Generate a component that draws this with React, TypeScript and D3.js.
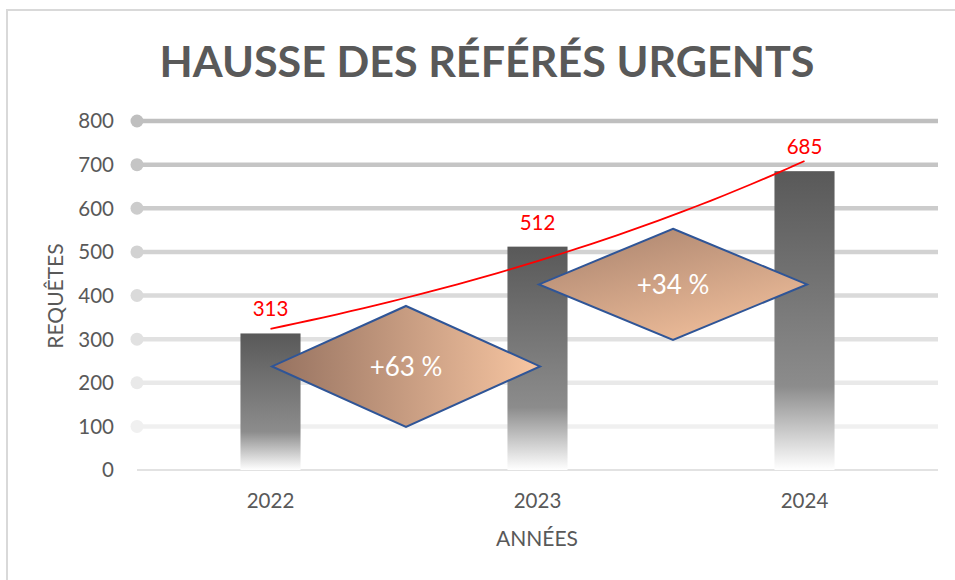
import { useMemo } from "react";
import * as d3 from "d3";

const WIDTH = 955;
const HEIGHT = 580;
const PLOT = { left: 137, right: 938, top: 121, bottom: 470 };

const years = ["2022", "2023", "2024"];
const requetes = [313, 512, 685];
const yTicks = [0, 100, 200, 300, 400, 500, 600, 700, 800];
const hausseLabels = ["+63 %", "+34 %"];
// vertical extent of each diamond, in axis units
const hausseLow = [99, 298];
const hausseHigh = [376, 553];

const FONT = "Lato, 'Open Sans', sans-serif";
const TEXT_GREY = "#595959";

// grid colours get lighter towards the bottom
const gridColor = d3
  .scaleLinear<string>()
  .domain([100, 500, 800])
  .range(["#f0f0f0", "#d2d2d2", "#bfbfbf"]);

const App = () => {
  const xScale = useMemo(
    () => d3.scalePoint().domain(years).range([PLOT.left, PLOT.right]).padding(0.5),
    []
  );
  const yScale = useMemo(
    () => d3.scaleLinear().domain([0, 800]).range([PLOT.bottom, PLOT.top]),
    []
  );
  const step = xScale.step();
  const barWidth = step * 0.225;

  // exponential trend line (least squares on ln y)
  const xs = years.map((_, i) => i + 1);
  const lns = requetes.map((v) => Math.log(v));
  const mx = d3.mean(xs)!;
  const my = d3.mean(lns)!;
  const slope =
    d3.sum(xs, (x, i) => (x - mx) * (lns[i] - my)) / d3.sum(xs, (x) => (x - mx) ** 2);
  const intercept = my - slope * mx;
  const trendX = d3.scaleLinear().domain([1, 3]).range([xScale(years[0])!, xScale(years[2])!]);
  const trendPts = d3.range(1, 3.001, 0.05).map((t) => [trendX(t), yScale(Math.exp(intercept + slope * t))] as [number, number]);
  const trendPath = d3.line().curve(d3.curveBasis)(trendPts);

  return (
    <svg width={WIDTH} height={HEIGHT} style={{ position: "absolute", left: 0, top: 0 }}>
      <defs>
        <linearGradient id="barGrad" x1="0" y1="0" x2="0" y2="1">
          <stop offset="0%" stopColor="#595959" />
          <stop offset="72%" stopColor="#8c8c8c" />
          <stop offset="100%" stopColor="#ffffff" />
        </linearGradient>
        <linearGradient id="diaGrad0" x1="0" y1="0" x2="1" y2="0">
          <stop offset="0%" stopColor="#967260" />
          <stop offset="100%" stopColor="#f8c6a2" />
        </linearGradient>
        <linearGradient id="diaGrad1" x1="0.2" y1="0" x2="0.8" y2="1">
          <stop offset="0%" stopColor="#ad8670" />
          <stop offset="100%" stopColor="#f2c09c" />
        </linearGradient>
      </defs>
      <rect x={0} y={0} width={WIDTH} height={HEIGHT} fill="#fff" />
      <rect x={7} y={10} width={WIDTH + 10} height={HEIGHT + 10} fill="#fff" stroke="#d9d9d9" strokeWidth={2} />

      <text
        x={487}
        y={77}
        textAnchor="middle"
        fontFamily={FONT}
        fontWeight={700}
        fontSize={42}
        fill={TEXT_GREY}
        textLength={655}
        lengthAdjust="spacingAndGlyphs"
      >
        HAUSSE DES RÉFÉRÉS URGENTS
      </text>

      {/* grid */}
      {yTicks.map((t) =>
        t === 0 ? (
          <line key={t} x1={PLOT.left} x2={PLOT.right} y1={yScale(t)} y2={yScale(t)} stroke="#d9d9d9" strokeWidth={1.5} />
        ) : (
          <g key={t}>
            <line x1={PLOT.left} x2={PLOT.right} y1={yScale(t)} y2={yScale(t)} stroke={gridColor(t)} strokeWidth={4.5} />
            <circle cx={PLOT.left} cy={yScale(t)} r={6.5} fill={gridColor(t)} />
          </g>
        )
      )}
      {yTicks.map((t) => (
        <text key={t} x={114} y={yScale(t)} dy="0.36em" textAnchor="end" fontFamily={FONT} fontSize={20.5} fill={TEXT_GREY}>
          {t}
        </text>
      ))}

      {/* bars */}
      {years.map((yr, i) => (
        <rect
          key={yr}
          x={xScale(yr)! - barWidth / 2}
          y={yScale(requetes[i])}
          width={barWidth}
          height={yScale(0) - yScale(requetes[i])}
          fill="url(#barGrad)"
        />
      ))}

      {/* trend */}
      <path d={trendPath ?? ""} fill="none" stroke="#ff0000" strokeWidth={1.8} />

      {/* diamonds */}
      {hausseLabels.map((lab, i) => {
        const cx = (xScale(years[i])! + xScale(years[i + 1])!) / 2 + 2;
        const top = yScale(hausseHigh[i]);
        const bot = yScale(hausseLow[i]);
        const cy = (top + bot) / 2;
        const hw = step / 2 + 0.5;
        const pts = [
          [cx, top],
          [cx + hw, cy],
          [cx, bot],
          [cx - hw, cy],
        ];
        return (
          <g key={lab}>
            <polygon
              points={pts.map((p) => p.join(",")).join(" ")}
              fill={`url(#diaGrad${i})`}
              stroke="#2f5597"
              strokeWidth={2}
              strokeLinejoin="miter"
            />
            <text x={cx} y={cy} dy="0.36em" textAnchor="middle" fontFamily={FONT} fontSize={26} fill="#ffffff">
              {lab}
            </text>
          </g>
        );
      })}

      {/* value labels */}
      {years.map((yr, i) => (
        <text
          key={yr}
          x={xScale(yr)!}
          y={yScale(requetes[i]) - 17}
          textAnchor="middle"
          fontFamily={FONT}
          fontSize={20.5}
          fill="#ff0000"
        >
          {requetes[i]}
        </text>
      ))}

      {/* x axis labels */}
      {years.map((yr) => (
        <text key={yr} x={xScale(yr)!} y={508} textAnchor="middle" fontFamily={FONT} fontSize={20.5} fill={TEXT_GREY}>
          {yr}
        </text>
      ))}
      <text x={537} y={546} textAnchor="middle" fontFamily={FONT} fontSize={21} fill={TEXT_GREY}>
        ANNÉES
      </text>
      <text
        transform={`translate(63,296) rotate(-90)`}
        textAnchor="middle"
        fontFamily={FONT}
        fontSize={21}
        fill={TEXT_GREY}
      >
        REQUÊTES
      </text>
    </svg>
  );
};

export default App;
